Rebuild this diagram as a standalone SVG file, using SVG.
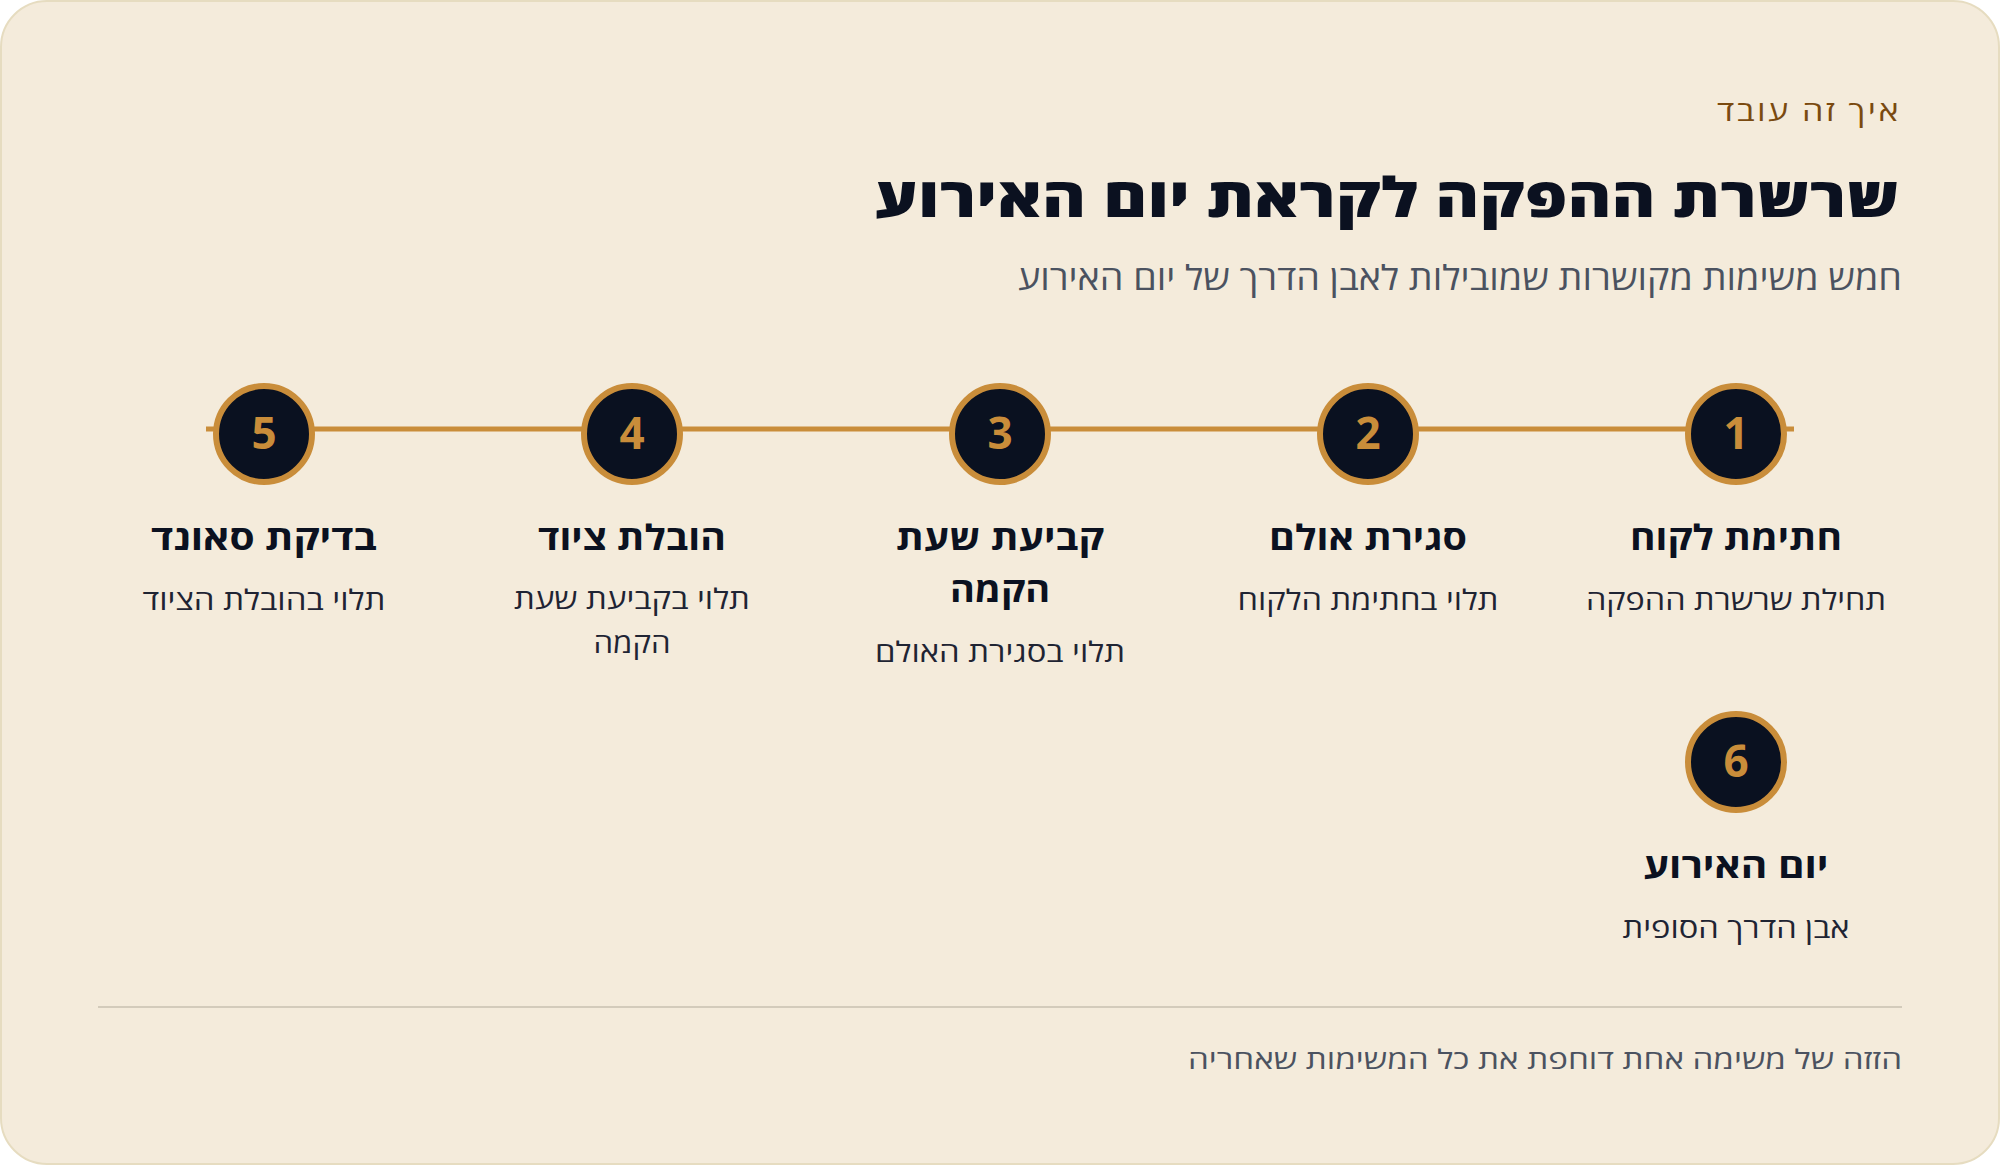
<svg xmlns="http://www.w3.org/2000/svg" width="2000" height="1166" viewBox="0 0 2000 1166">
<style>
text{font-family:"Open Sans","DejaVu Sans",sans-serif}
.eyebrow{font-size:28px;fill:#7a4a10;letter-spacing:2px}
.title{font-size:55px;font-weight:800;fill:#0b1120}
.sub{font-size:34px;fill:#4b5260}
.num{font-size:44px;font-weight:700;fill:#c98d3a;text-anchor:middle}
.nt{font-size:35px;font-weight:700;fill:#0b1120;text-anchor:middle}
.nd{font-size:28px;fill:#1f2433;text-anchor:middle}
.foot{font-size:27px;fill:#4b5260}
.dot{fill:#0a1120;stroke:#c98d3a;stroke-width:6}
</style>
<rect x="0" y="0" width="2000" height="1166" fill="#ffffff"/>
<rect x="1" y="1" width="1998" height="1163" rx="46" fill="#f4ebdb" stroke="#e6dcc0" stroke-width="2"/>
<text class="eyebrow" x="1901" y="121" text-anchor="end" textLength="184" lengthAdjust="spacingAndGlyphs">איך זה עובד</text>
<text class="title" x="1899" y="217" text-anchor="end" textLength="1024" lengthAdjust="spacingAndGlyphs">שרשרת ההפקה לקראת יום האירוע</text>
<text class="sub" x="1902" y="290" text-anchor="end" textLength="884" lengthAdjust="spacingAndGlyphs">חמש משימות מקושרות שמובילות לאבן הדרך של יום האירוע</text>
<g id="connectors">
<line x1="206" y1="429" x2="1794" y2="429" stroke="#c98d3a" stroke-width="5"/>
</g>
<g id="node1">
<circle class="dot" cx="1736" cy="434" r="48"/>
<text class="num" x="1736" y="449">1</text>
<text class="nt" x="1736" y="550" textLength="212" lengthAdjust="spacingAndGlyphs">חתימת לקוח</text>
<text class="nd" x="1736" y="610" textLength="300" lengthAdjust="spacingAndGlyphs">תחילת שרשרת ההפקה</text>
</g>
<g id="node2">
<circle class="dot" cx="1368" cy="434" r="48"/>
<text class="num" x="1368" y="449">2</text>
<text class="nt" x="1368" y="550" textLength="198" lengthAdjust="spacingAndGlyphs">סגירת אולם</text>
<text class="nd" x="1368" y="610" textLength="261" lengthAdjust="spacingAndGlyphs">תלוי בחתימת הלקוח</text>
</g>
<g id="node3">
<circle class="dot" cx="1000" cy="434" r="48"/>
<text class="num" x="1000" y="449">3</text>
<text class="nt" x="1000" y="550" textLength="208" lengthAdjust="spacingAndGlyphs">קביעת שעת</text>
<text class="nt" x="1000" y="602" textLength="100" lengthAdjust="spacingAndGlyphs">הקמה</text>
<text class="nd" x="1000" y="662" textLength="250" lengthAdjust="spacingAndGlyphs">תלוי בסגירת האולם</text>
</g>
<g id="node4">
<circle class="dot" cx="632" cy="434" r="48"/>
<text class="num" x="632" y="449">4</text>
<text class="nt" x="632" y="550" textLength="188" lengthAdjust="spacingAndGlyphs">הובלת ציוד</text>
<text class="nd" x="632" y="609" textLength="236" lengthAdjust="spacingAndGlyphs">תלוי בקביעת שעת</text>
<text class="nd" x="632" y="653" textLength="77" lengthAdjust="spacingAndGlyphs">הקמה</text>
</g>
<g id="node5">
<circle class="dot" cx="264" cy="434" r="48"/>
<text class="num" x="264" y="449">5</text>
<text class="nt" x="264" y="550" textLength="226" lengthAdjust="spacingAndGlyphs">בדיקת סאונד</text>
<text class="nd" x="264" y="610" textLength="243" lengthAdjust="spacingAndGlyphs">תלוי בהובלת הציוד</text>
</g>
<g id="node6">
<circle class="dot" cx="1736" cy="762" r="48"/>
<text class="num" x="1736" y="777">6</text>
<text class="nt" x="1736" y="878" textLength="185" lengthAdjust="spacingAndGlyphs">יום האירוע</text>
<text class="nd" x="1736" y="938" textLength="227" lengthAdjust="spacingAndGlyphs">אבן הדרך הסופית</text>
</g>
<line x1="98" y1="1007" x2="1902" y2="1007" stroke="#d3cbbb" stroke-width="2"/>
<text class="foot" x="1902" y="1069" text-anchor="end" textLength="714" lengthAdjust="spacingAndGlyphs">הזזה של משימה אחת דוחפת את כל המשימות שאחריה</text>
</svg>
